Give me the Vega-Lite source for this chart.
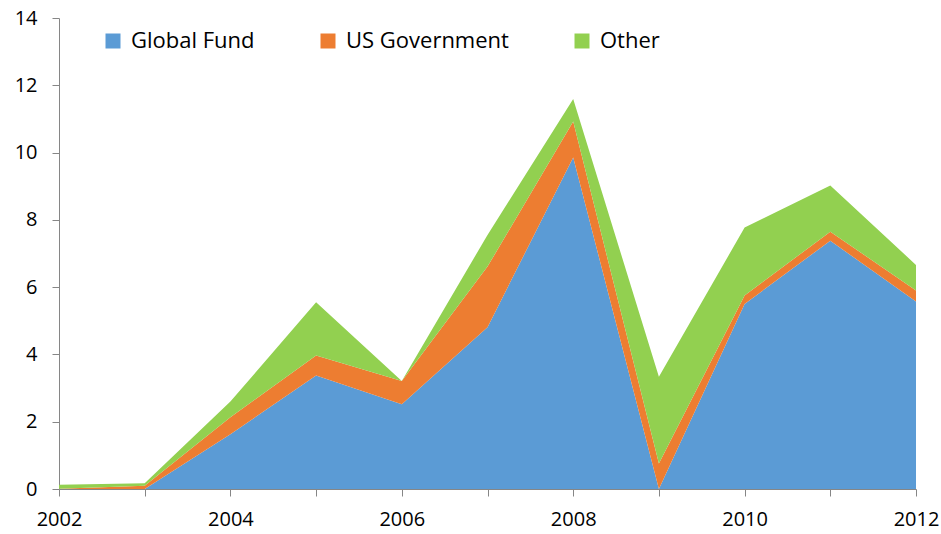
{
  "$schema": "https://vega.github.io/schema/vega-lite/v6.json",
  "autosize": {"type": "none"},
  "width": 857,
  "height": 471,
  "padding": {"left": 59, "top": 18, "right": 25, "bottom": 45},
  "background": "white",
  "config": {
    "view": {"stroke": null},
    "font": "Open Sans"
  },
  "data": {
    "values": [
      {"year": 2002, "source": "Global Fund", "value": 0},
      {"year": 2002, "source": "US Government", "value": 0.01},
      {"year": 2002, "source": "Other", "value": 0.12},
      {"year": 2003, "source": "Global Fund", "value": 0},
      {"year": 2003, "source": "US Government", "value": 0.1},
      {"year": 2003, "source": "Other", "value": 0.07},
      {"year": 2004, "source": "Global Fund", "value": 1.63},
      {"year": 2004, "source": "US Government", "value": 0.5},
      {"year": 2004, "source": "Other", "value": 0.47},
      {"year": 2005, "source": "Global Fund", "value": 3.37},
      {"year": 2005, "source": "US Government", "value": 0.6},
      {"year": 2005, "source": "Other", "value": 1.58},
      {"year": 2006, "source": "Global Fund", "value": 2.52},
      {"year": 2006, "source": "US Government", "value": 0.69},
      {"year": 2006, "source": "Other", "value": 0.0},
      {"year": 2007, "source": "Global Fund", "value": 4.81},
      {"year": 2007, "source": "US Government", "value": 1.8},
      {"year": 2007, "source": "Other", "value": 0.94},
      {"year": 2008, "source": "Global Fund", "value": 9.85},
      {"year": 2008, "source": "US Government", "value": 1.07},
      {"year": 2008, "source": "Other", "value": 0.67},
      {"year": 2009, "source": "Global Fund", "value": 0},
      {"year": 2009, "source": "US Government", "value": 0.76},
      {"year": 2009, "source": "Other", "value": 2.58},
      {"year": 2010, "source": "Global Fund", "value": 5.5},
      {"year": 2010, "source": "US Government", "value": 0.25},
      {"year": 2010, "source": "Other", "value": 2.02},
      {"year": 2011, "source": "Global Fund", "value": 7.38},
      {"year": 2011, "source": "US Government", "value": 0.27},
      {"year": 2011, "source": "Other", "value": 1.37},
      {"year": 2012, "source": "Global Fund", "value": 5.57},
      {"year": 2012, "source": "US Government", "value": 0.33},
      {"year": 2012, "source": "Other", "value": 0.76}
    ]
  },
  "transform": [
    {"calculate": "indexof(['Global Fund', 'US Government', 'Other'], datum.source)", "as": "stackOrder"}
  ],
  "mark": {"type": "area", "interpolate": "linear"},
  "encoding": {
    "x": {
      "field": "year",
      "type": "quantitative",
      "scale": {"domain": [2002, 2012], "nice": false, "zero": false},
      "axis": {
        "title": null,
        "values": [2002, 2003, 2004, 2005, 2006, 2007, 2008, 2009, 2010, 2011, 2012],
        "labelExpr": "datum.value % 2 == 0 ? datum.value : ''",
        "format": "d",
        "grid": false,
        "domainColor": "#868686",
        "tickColor": "#868686",
        "tickSize": 7,
        "labelFontSize": 20,
        "labelColor": "#000000",
        "labelPadding": 13,
        "labelFlush": false,
        "labelOverlap": false
      }
    },
    "y": {
      "field": "value",
      "type": "quantitative",
      "stack": "zero",
      "scale": {"domain": [0, 14], "nice": false},
      "axis": {
        "title": null,
        "values": [0, 2, 4, 6, 8, 10, 12, 14],
        "grid": false,
        "domainColor": "#868686",
        "tickColor": "#868686",
        "tickSize": 7,
        "labelFontSize": 20,
        "labelColor": "#000000",
        "labelPadding": 15
      }
    },
    "order": {"field": "stackOrder", "type": "quantitative", "sort": "ascending"},
    "color": {
      "field": "source",
      "type": "nominal",
      "sort": ["Global Fund", "US Government", "Other"],
      "scale": {
        "domain": ["Global Fund", "US Government", "Other"],
        "range": ["#5B9BD5", "#ED7D31", "#92D050"]
      },
      "legend": {
        "title": null,
        "orient": "none",
        "legendX": 43,
        "legendY": 12,
        "direction": "horizontal",
        "symbolType": "square",
        "symbolSize": 225,
        "symbolStrokeWidth": 0,
        "symbolOpacity": 1,
        "labelFontSize": 22,
        "labelLimit": 400,
        "labelColor": "#000000",
        "labelOffset": 7,
        "columnPadding": 62
      }
    }
  }
}
